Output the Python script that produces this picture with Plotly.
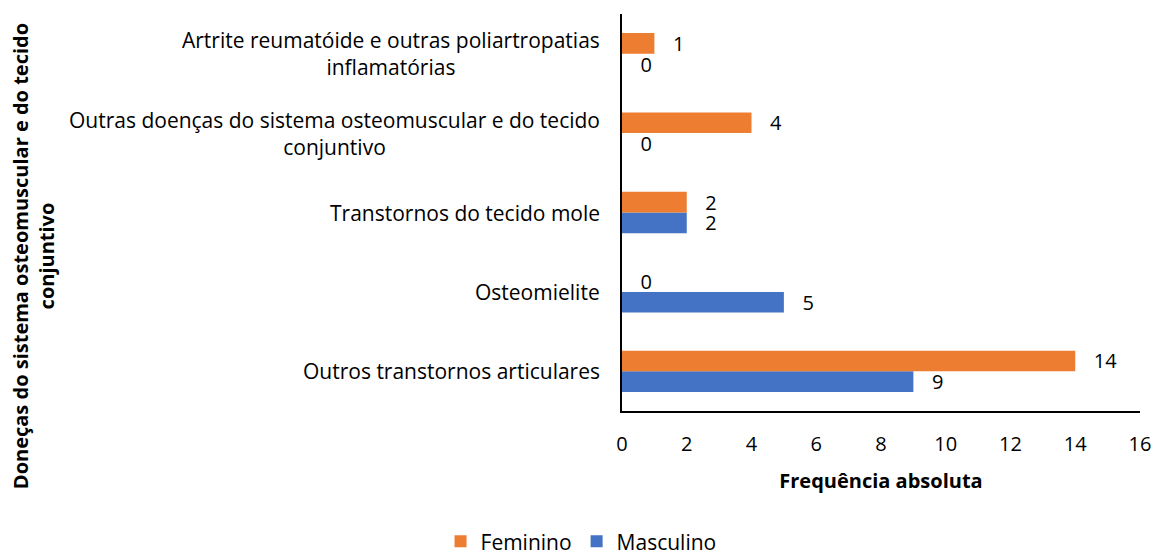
import plotly.graph_objects as go

categories = [
    "Outros transtornos articulares",
    "Osteomielite",
    "Transtornos do tecido mole",
    "Outras doenças do sistema osteomuscular e do tecido<br>conjuntivo",
    "Artrite reumatóide e outras poliartropatias<br>inflamatórias",
]
masculino = [9, 5, 2, 0, 0]
feminino = [14, 0, 2, 4, 1]
x_ticks = [0, 2, 4, 6, 8, 10, 12, 14, 16]

FONT = "'Open Sans', sans-serif"
ORANGE = "#ED7D31"
BLUE = "#4472C4"
FS = 20
W, H = 1154, 558
ML, MR, MT, MB = 622, 14, 14, 147

fig = go.Figure()
for name, vals, col in [("Masculino", masculino, BLUE), ("Feminino", feminino, ORANGE)]:
    fig.add_trace(go.Bar(
        y=categories, x=vals, name=name, orientation="h",
        marker=dict(color=col, line=dict(width=0)), text=vals, texttemplate="   %{x}",
        textposition="outside", constraintext="none",
        textfont=dict(size=FS, color="#000000", family=FONT), cliponaxis=False,
    ))

for c in categories:
    fig.add_annotation(
        x=0, xref="paper", y=c, yref="y", text=c, showarrow=False,
        xanchor="right", yanchor="middle", align="center", xshift=-20,
        font=dict(size=21, color="#000000", family=FONT),
    )

fig.add_annotation(
    x=(33 - ML) / (W - ML - MR), xref="paper", y=0.39, yref="paper", showarrow=False,
    text="<b>Doneças do sistema osteomuscular e do tecido<br>conjuntivo</b>",
    textangle=-90, align="center", xanchor="center", yanchor="middle",
    font=dict(size=20, color="#000000", family=FONT),
)

fig.update_layout(
    width=W, height=H,
    margin=dict(l=ML, r=MR, t=MT, b=MB, autoexpand=False),
    paper_bgcolor="white", plot_bgcolor="white",
    font=dict(family=FONT, size=FS, color="#000000"),
    barmode="group", bargap=0.48, bargroupgap=0,
    legend=dict(orientation="h", x=0.5035, xref="container", xanchor="center",
                y=0.066, yref="container", yanchor="top", traceorder="reversed",
                font=dict(size=21), itemwidth=30),
    showlegend=True,
)
fig.update_xaxes(
    range=[0, 16], tickvals=x_ticks, showgrid=False, zeroline=False,
    showline=True, linecolor="#000000", linewidth=2, ticks="",
    tickfont=dict(size=FS), ticklabelstandoff=14,
    title=dict(text="<b>Frequência absoluta</b>", font=dict(size=20), standoff=18),
)
fig.update_yaxes(
    showticklabels=False, showgrid=False, zeroline=False,
    showline=True, linecolor="#000000", linewidth=2, ticks="",
)

fig.write_html("out.html", config={"displayModeBar": False},
               post_script="document.body.style.margin='0';document.body.style.overflow='hidden';")
